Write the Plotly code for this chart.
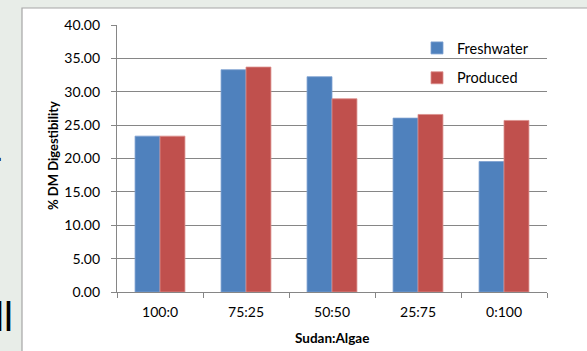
import plotly.graph_objects as go

# Sudan grass : algae blend ratios and % dry-matter digestibility
ratios = ["100:0", "75:25", "50:50", "25:75", "0:100"]
freshwater = [23.35, 33.3, 32.25, 26.05, 19.55]
produced = [23.35, 33.7, 28.95, 26.6, 25.7]

font_family = "Lato, 'Open Sans', sans-serif"
axis_gray = "#868686"

fig = go.Figure()
fig.add_trace(go.Bar(
    x=ratios, y=freshwater, name="Freshwater",
    marker=dict(color="#4f81bd", line=dict(color="#7c9fd0", width=0.8)),
    legendgroup="fw",
))
fig.add_trace(go.Bar(
    x=ratios, y=produced, name="Produced",
    marker=dict(color="#c0504d", line=dict(color="#dc8f8d", width=0.8)),
    legendgroup="pr",
))

# plot-area pixel box inside the 587x351 page
L, R, T, B = 117, 547, 25, 292
W, H = R - L, B - T


def px(x):
    return (x - L) / W


def py(y):
    return (B - y) / H


fig.update_layout(
    width=587, height=351,
    margin=dict(l=L, r=587 - R, t=T, b=351 - B, pad=0),
    paper_bgcolor="#e8ede8",
    plot_bgcolor="white",
    font=dict(family=font_family, size=14, color="#000000"),
    barmode="group",
    bargap=0.42,
    bargroupgap=0,
    showlegend=True,
    legend=dict(
        x=px(417), y=py(32), xanchor="left", yanchor="top",
        bgcolor="rgba(0,0,0,0)", font=dict(size=14.5),
        traceorder="grouped", tracegroupgap=8,
        itemclick=False,
    ),
    shapes=[
        # white chart area with a thin border on its visible edges
        dict(type="rect", xref="paper", yref="paper",
             x0=px(22), x1=px(640), y0=py(400), y1=py(8),
             fillcolor="white", line=dict(color="#a6a6a6", width=1.2),
             layer="below"),
    ],
    annotations=[
        dict(text="<b>% DM Digestibility</b>", xref="paper", yref="paper",
             x=px(53), y=py(156), textangle=-90, showarrow=False,
             font=dict(size=13), xanchor="center", yanchor="middle"),
        dict(text="<b>Sudan:Algae</b>", xref="paper", yref="paper",
             x=0.5, y=py(338), showarrow=False,
             font=dict(size=13.5), xanchor="center", yanchor="middle"),
        # fragments of slide text left of the chart area
        dict(text="ll", xref="paper", yref="paper",
             x=px(15), y=py(317), showarrow=False,
             font=dict(size=40, family="Liberation Sans"),
             xanchor="right", yanchor="middle"),
        dict(text=".", xref="paper", yref="paper",
             x=px(5), y=py(150), showarrow=False,
             font=dict(size=30, family="Liberation Sans"),
             xanchor="right", yanchor="middle"),
    ],
)

fig.update_yaxes(
    range=[0, 40], dtick=5, tickformat=".2f",
    showgrid=True, gridcolor=axis_gray, gridwidth=1.2,
    showline=True, linecolor=axis_gray, linewidth=1.2,
    ticks="outside", ticklen=5, tickcolor=axis_gray, tickwidth=1.2,
    ticklabelstandoff=8,
    zeroline=False,
    tickfont=dict(size=14),
)
fig.update_xaxes(
    showgrid=False,
    showline=True, linecolor=axis_gray, linewidth=1.2,
    ticks="outside", tickson="boundaries", ticklen=5,
    tickcolor=axis_gray, tickwidth=1.2,
    ticklabelstandoff=7,
    tickfont=dict(size=14),
)

fig.write_html("out.html")
